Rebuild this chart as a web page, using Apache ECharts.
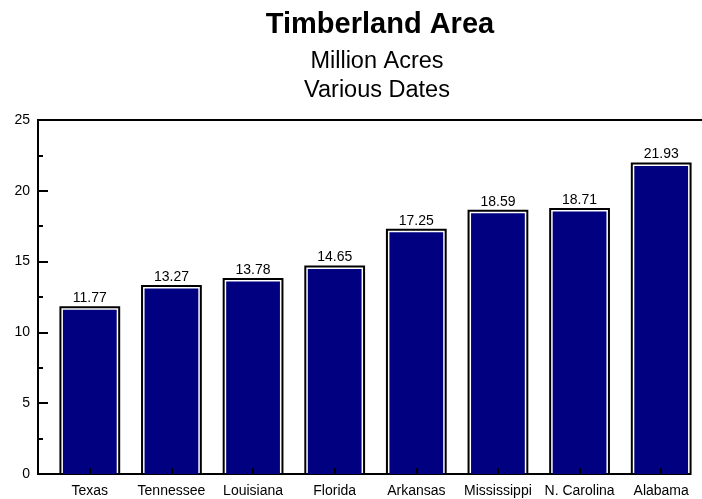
<!DOCTYPE html>
<html>
<head>
<meta charset="utf-8">
<script src="https://cdn.jsdelivr.net/npm/echarts@6/dist/echarts.min.js"></script>
<style>html,body{margin:0;padding:0;background:#fff}#c{width:702px;height:499px}</style>
</head>
<body>
<div id="c"></div>
<script>
const categories = ['Texas','Tennessee','Louisiana','Florida','Arkansas','Mississippi','N. Carolina','Alabama'];
const values = [11.77, 13.27, 13.78, 14.65, 17.25, 18.59, 18.71, 21.93];
const yTicks = [0, 5, 10, 15, 20, 25];

const FONT = '"Liberation Sans", Arial, sans-serif';
const chart = echarts.init(document.getElementById('c'), null, {renderer: 'canvas'});
const GRID = {left: 49, right: 0, top: 120, bottom: 25};

chart.setOption({
  animation: false,
  backgroundColor: '#fff',
  title: [
    {text: 'Timberland Area', left: 375, textAlign: 'center', top: 5, textStyle: {fontFamily: FONT, fontSize: 29, fontWeight: 'bold', color: '#000'}},
    {text: 'Million Acres', left: 372, textAlign: 'center', top: 45, textStyle: {fontFamily: FONT, fontSize: 23.5, fontWeight: 'normal', color: '#000'}},
    {text: 'Various Dates', left: 372, textAlign: 'center', top: 74, textStyle: {fontFamily: FONT, fontSize: 23.5, fontWeight: 'normal', color: '#000'}}
  ],
  grid: GRID,
  xAxis: {
    type: 'category',
    data: categories,
    z: 10,
    axisLine: {show: false},
    axisTick: {show: true, inside: true, alignWithLabel: true, length: 6, lineStyle: {color: '#000', width: 2}},
    axisLabel: {color: '#000', fontFamily: FONT, fontSize: 14, margin: 10, interval: 0}
  },
  yAxis: {
    type: 'value',
    min: yTicks[0],
    max: yTicks[yTicks.length - 1],
    interval: 5,
    offset: 11,
    axisLine: {show: true, lineStyle: {color: '#000', width: 2}},
    axisTick: {show: true, inside: true, length: 10, lineStyle: {color: '#000', width: 2}},
    minorTick: {show: true, splitNumber: 2, length: 5, lineStyle: {color: '#000', width: 2}},
    splitLine: {show: false},
    axisLabel: {color: '#000', fontFamily: FONT, fontSize: 14, margin: 8}
  },
  series: [{
    type: 'custom',
    data: values.map((v, i) => [i, v]),
    encode: {x: 0, y: 1},
    renderItem: function (params, api) {
      const x = api.value(0), v = api.value(1);
      const top = api.coord([x, v]);
      const base = api.coord([x, 0]);
      const bw = api.size([1, 0])[0] * 0.72;
      const h = base[1] - top[1];
      return {
        type: 'group',
        children: [
          {type: 'rect', shape: {x: top[0] - bw / 2, y: top[1], width: bw, height: h},
           style: {fill: '#fff', stroke: '#000', lineWidth: 2}},
          {type: 'rect', shape: {x: top[0] - bw / 2 + 2.5, y: top[1] + 2.5, width: bw - 5, height: h - 2.5},
           style: {fill: '#000080'}},
          {type: 'text', x: top[0], y: top[1] - 2,
           style: {text: v.toFixed(2), fill: '#000', font: '14px ' + FONT, align: 'center', verticalAlign: 'bottom'}}
        ]
      };
    }
  }],
  graphic: [
    {type: 'line', shape: {x1: 37, y1: 120, x2: 702, y2: 120}, style: {stroke: '#000', lineWidth: 2}},
    {type: 'line', shape: {x1: 37, y1: 474, x2: 690, y2: 474}, style: {stroke: '#000', lineWidth: 2}}
  ]
});
</script>
</body>
</html>
